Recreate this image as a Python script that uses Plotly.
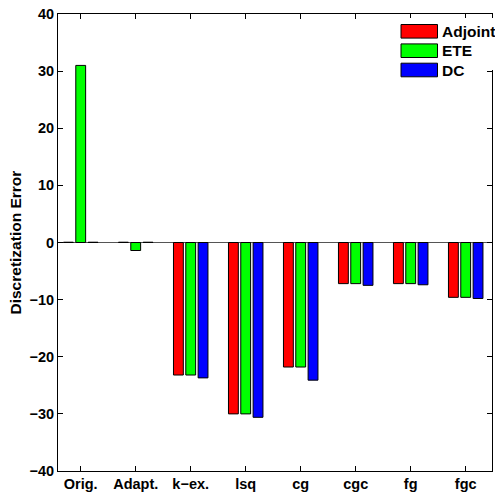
import plotly.graph_objects as go

categories = ["Orig.", "Adapt.", "k\u2212ex.", "lsq", "cg", "cgc", "fg", "fgc"]
series_names = ["Adjoint", "ETE", "DC"]
series_colors = ["#FF0000", "#00FF00", "#0000FF"]
adjoint = [0.05, 0.05, -23.2, -30.0, -21.8, -7.2, -7.2, -9.6]
ete = [31.0, -1.4, -23.2, -30.0, -21.8, -7.2, -7.2, -9.6]
dc = [0.05, 0.05, -23.7, -30.6, -24.1, -7.5, -7.4, -9.8]
series_values = [adjoint, ete, dc]
yticks = [-40, -30, -20, -10, 0, 10, 20, 30, 40]

W, H = 495, 499
L, R, T, B = 58, 3, 14, 28
pw, ph = W - L - R, H - T - B

def px_x(p):
    return (p - L) / pw

def px_y(p):
    return (H - B - p) / ph

xs = list(range(1, len(categories) + 1))
fig = go.Figure()
for name, col, vals in zip(series_names, series_colors, series_values):
    fig.add_trace(go.Bar(x=xs, y=vals, name=name, marker=dict(color=col, line=dict(color="black", width=1))))

fam = "Liberation Sans, Arial, sans-serif"
font_tick = dict(family=fam, size=14.5, color="black", weight="bold")
font_big = dict(family=fam, size=15.5, color="black", weight="bold")

fig.update_layout(
    width=W, height=H,
    margin=dict(l=L, r=R, t=T, b=B, pad=0),
    paper_bgcolor="white", plot_bgcolor="white",
    barmode="group", bargap=0.328, bargroupgap=0.2,
    showlegend=False,
    font=font_tick,
)
fig.update_xaxes(
    range=[0.587, 8.478], tickvals=xs, ticktext=categories,
    showline=True, linecolor="black", linewidth=1, mirror="ticks",
    ticks="inside", ticklen=5, tickcolor="black", showgrid=False, zeroline=False,
    tickfont=font_tick, fixedrange=True,
)
fig.update_yaxes(
    range=[-40, 40], tickvals=yticks, ticktext=[str(v).replace("-", "\u2212") for v in yticks],
    showline=True, linecolor="black", linewidth=1, mirror="ticks",
    ticks="inside", ticklen=5, tickcolor="black", showgrid=False,
    zeroline=True, zerolinecolor="#555555", zerolinewidth=1,
    tickfont=font_tick, fixedrange=True,
)

# y-axis title
fig.add_annotation(
    text="Discretization Error", xref="paper", yref="paper",
    x=px_x(15), y=px_y(242.5), xanchor="center", yanchor="middle",
    textangle=-90, showarrow=False, font=font_big,
)

# manual legend (MATLAB style)
fig.add_shape(type="rect", xref="paper", yref="paper",
              x0=px_x(396), x1=px_x(W + 5), y0=px_y(18), y1=px_y(70),
              fillcolor="white", line=dict(width=0), layer="above")
row_centers = [31.3, 50.7, 70.0]
for name, col, yc in zip(series_names, series_colors, row_centers):
    fig.add_shape(type="rect", xref="paper", yref="paper",
                  x0=px_x(401), x1=px_x(437.5), y0=px_y(yc - 6.8), y1=px_y(yc + 6.8),
                  fillcolor=col, line=dict(color="black", width=1), layer="above")
    fig.add_annotation(text=name, xref="paper", yref="paper",
                       x=px_x(440), y=px_y(yc), xanchor="left", yanchor="middle",
                       showarrow=False, font=font_big)

fig.write_html("out.html")
